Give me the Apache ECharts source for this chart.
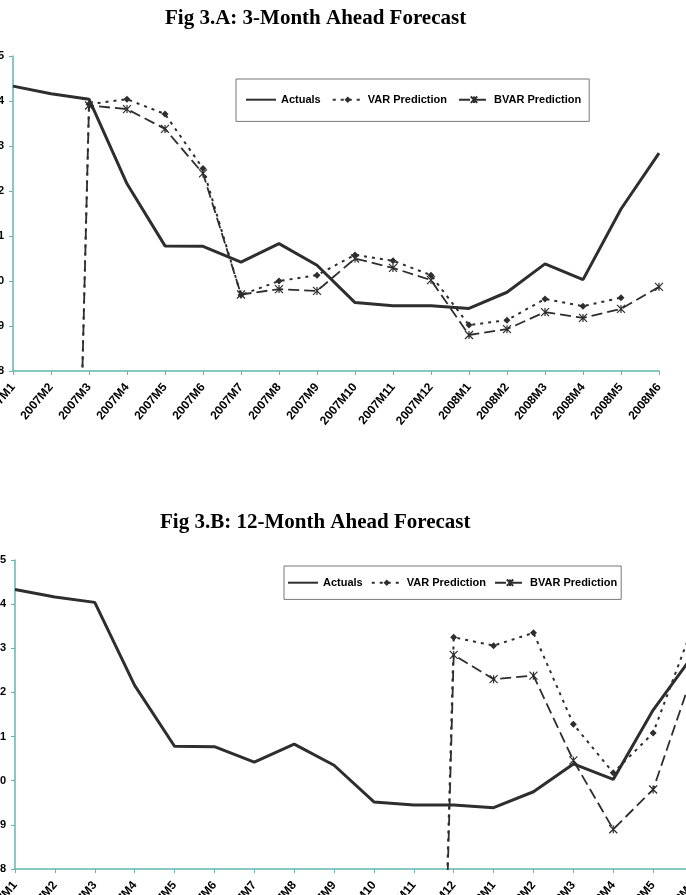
<!DOCTYPE html>
<html>
<head>
<meta charset="utf-8">
<script src="https://cdn.jsdelivr.net/npm/echarts@6/dist/echarts.min.js"></script>
<style>
  html, body { margin: 0; padding: 0; background: #fff; }
  #chart { width: 686px; height: 895px; }
</style>
</head>
<body>
<div id="chart"></div>
<script>
// months on the x axis (both panels)
const months = ['2007M1','2007M2','2007M3','2007M4','2007M5','2007M6','2007M7','2007M8','2007M9',
  '2007M10','2007M11','2007M12','2008M1','2008M2','2008M3','2008M4','2008M5','2008M6'];

const actuals = [14.33, 14.16, 14.04, 12.16, 10.78, 10.77, 10.42, 10.83, 10.35,
  9.52, 9.45, 9.45, 9.39, 9.75, 10.38, 10.03, 11.60, 12.84];

// Fig 3.A: 3-month ahead
const var3 = [null, -20, 13.93, 14.04, 13.71, 12.50, 9.69, 10.00, 10.13,
  10.58, 10.45, 10.13, 9.02, 9.13, 9.60, 9.44, 9.63, null];
const bvar3 = [null, -20, 13.90, 13.82, 13.38, 12.39, 9.70, 9.82, 9.78,
  10.50, 10.29, 10.02, 8.80, 8.93, 9.31, 9.18, 9.38, 9.87];

// Fig 3.B: 12-month ahead
const var12 = [null, null, null, null, null, null, null, null, null,
  null, -20, 13.25, 13.06, 13.35, 11.28, 10.18, 11.08, 13.50];
const bvar12 = [null, null, null, null, null, null, null, null, null,
  null, -20, 12.85, 12.30, 12.38, 10.46, 8.90, 9.80, 12.44];

const yMin = 8, yMax = 15, yStep = 1;

const ink = '#2e2e2e';
const teal = '#62b6b0';
const starPath = 'path://M0,0L10,10M10,0L0,10M5,0L5,10';
const font = 'Liberation Sans, Arial';

const chart = echarts.init(document.getElementById('chart'));

function xAxis(gridIndex) {
  return {
    type: 'category', gridIndex, data: months, boundaryGap: false,
    axisLine: { lineStyle: { color: teal, width: 1.5 } },
    axisTick: { lineStyle: { color: teal }, length: 4 },
    axisLabel: {
      interval: 0, rotate: 50, margin: 14,
      color: '#000', fontSize: 12, fontWeight: 'bold', fontFamily: font
    }
  };
}

function yAxis(gridIndex) {
  return {
    type: 'value', gridIndex, min: yMin, max: yMax, interval: yStep,
    splitLine: { show: false },
    axisLine: { show: true, lineStyle: { color: teal, width: 1.5 } },
    axisTick: { show: true, length: 4, lineStyle: { color: teal } },
    axisLabel: { margin: 9, color: '#000', fontSize: 11, fontWeight: 'bold', fontFamily: font }
  };
}

function panelSeries(idx, varData, bvarData) {
  return [
    {
      name: 'Actuals', type: 'line', xAxisIndex: idx, yAxisIndex: idx, data: actuals,
      symbol: 'none', lineStyle: { color: ink, width: 3 }, itemStyle: { color: ink }, z: 3
    },
    {
      name: 'VAR Prediction', type: 'line', xAxisIndex: idx, yAxisIndex: idx, data: varData,
      symbol: 'diamond', symbolSize: 7, showAllSymbol: true,
      lineStyle: { color: ink, width: 2, type: [3, 5] }, itemStyle: { color: ink }, z: 2
    },
    {
      name: 'BVAR Prediction', type: 'line', xAxisIndex: idx, yAxisIndex: idx, data: bvarData,
      symbol: starPath, symbolSize: 8, showAllSymbol: true,
      lineStyle: { color: ink, width: 1.8, type: [11, 5] },
      itemStyle: { color: 'none', borderColor: ink, borderWidth: 1.2 }, z: 2
    }
  ];
}

const legendItems = [
  { name: 'Actuals', itemStyle: { opacity: 0 } },
  { name: 'VAR Prediction' },
  { name: 'BVAR Prediction' }
];

const titleStyle = { fontFamily: 'Liberation Serif, Times New Roman', fontWeight: 'bold', fontSize: 21, color: '#000' };
const legendText = { fontFamily: font, fontWeight: 'bold', fontSize: 11, color: '#000' };

chart.setOption({
  animation: false,
  backgroundColor: '#fff',
  title: [
    { text: 'Fig 3.A: 3-Month Ahead Forecast', left: 165, top: 8, padding: 0, textStyle: titleStyle },
    { text: 'Fig 3.B: 12-Month Ahead Forecast', left: 160, top: 512, padding: 0, textStyle: titleStyle }
  ],
  legend: [
    {
      data: legendItems, left: 236, top: 79, orient: 'horizontal',
      padding: [15, 8, 16, 9], itemGap: 11, itemWidth: 30, itemHeight: 8,
      borderColor: '#777', borderWidth: 1, textStyle: legendText
    },
    {
      data: legendItems, left: 284, top: 566, orient: 'horizontal',
      padding: [11, 4, 11, 3], itemGap: 8, itemWidth: 30, itemHeight: 8,
      borderColor: '#777', borderWidth: 1, textStyle: legendText
    }
  ],
  grid: [
    { left: 13, top: 56, width: 646, height: 315, outerBoundsMode: 'none', containLabel: false },
    { left: 15, top: 560, width: 678, height: 309, outerBoundsMode: 'none', containLabel: false }
  ],
  xAxis: [xAxis(0), xAxis(1)],
  yAxis: [yAxis(0), yAxis(1)],
  series: [...panelSeries(0, var3, bvar3), ...panelSeries(1, var12, bvar12)]
});
</script>
</body>
</html>
